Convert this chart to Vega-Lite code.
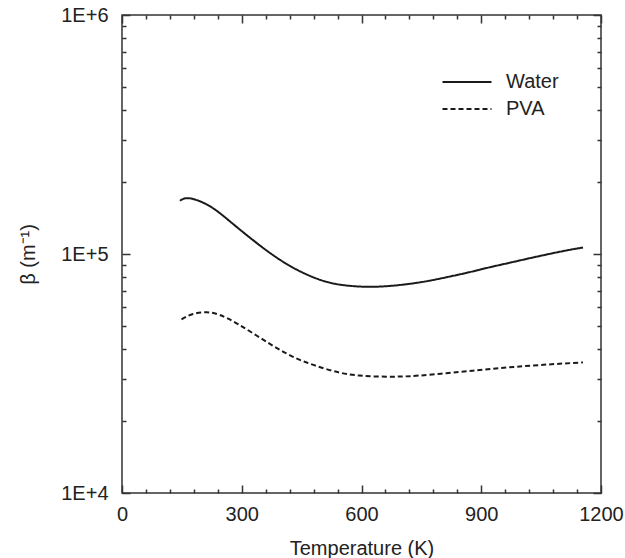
{
  "$schema": "https://vega.github.io/schema/vega-lite/v6.json",
  "autosize": "none",
  "width": 479,
  "height": 478,
  "padding": {"left": 122, "top": 15, "right": 24, "bottom": 65},
  "background": "white",
  "config": {
    "font": "Liberation Sans",
    "view": {"stroke": "#333333", "strokeWidth": 1.5},
    "axis": {"grid": false, "domain": false, "tickColor": "#333333", "tickWidth": 1.5, "labelColor": "#222222", "titleColor": "#222222", "labelFont": "Liberation Sans", "titleFont": "Liberation Sans", "labelFontSize": 20, "titleFontSize": 20, "titleFontWeight": "normal"}
  },
  "data": {
    "values": [
      {"T": 145, "beta": 167000, "series": "Water"},
      {"T": 170, "beta": 171000, "series": "Water"},
      {"T": 220, "beta": 158500, "series": "Water"},
      {"T": 270, "beta": 137100, "series": "Water"},
      {"T": 320, "beta": 117200, "series": "Water"},
      {"T": 370, "beta": 101200, "series": "Water"},
      {"T": 420, "beta": 89300, "series": "Water"},
      {"T": 470, "beta": 81100, "series": "Water"},
      {"T": 520, "beta": 75900, "series": "Water"},
      {"T": 570, "beta": 73600, "series": "Water"},
      {"T": 620, "beta": 72900, "series": "Water"},
      {"T": 670, "beta": 73500, "series": "Water"},
      {"T": 720, "beta": 75000, "series": "Water"},
      {"T": 770, "beta": 77300, "series": "Water"},
      {"T": 820, "beta": 80400, "series": "Water"},
      {"T": 870, "beta": 83900, "series": "Water"},
      {"T": 920, "beta": 87900, "series": "Water"},
      {"T": 970, "beta": 91800, "series": "Water"},
      {"T": 1020, "beta": 95900, "series": "Water"},
      {"T": 1070, "beta": 100000, "series": "Water"},
      {"T": 1120, "beta": 104000, "series": "Water"},
      {"T": 1155, "beta": 106400, "series": "Water"},
      {"T": 149, "beta": 53300, "series": "PVA"},
      {"T": 178, "beta": 56100, "series": "PVA"},
      {"T": 212, "beta": 57000, "series": "PVA"},
      {"T": 245, "beta": 55600, "series": "PVA"},
      {"T": 287, "beta": 51300, "series": "PVA"},
      {"T": 337, "beta": 45600, "series": "PVA"},
      {"T": 387, "beta": 40500, "series": "PVA"},
      {"T": 437, "beta": 36600, "series": "PVA"},
      {"T": 487, "beta": 34000, "series": "PVA"},
      {"T": 545, "beta": 31900, "series": "PVA"},
      {"T": 595, "beta": 31000, "series": "PVA"},
      {"T": 645, "beta": 30700, "series": "PVA"},
      {"T": 695, "beta": 30700, "series": "PVA"},
      {"T": 745, "beta": 31000, "series": "PVA"},
      {"T": 812, "beta": 31700, "series": "PVA"},
      {"T": 878, "beta": 32500, "series": "PVA"},
      {"T": 945, "beta": 33300, "series": "PVA"},
      {"T": 1045, "beta": 34300, "series": "PVA"},
      {"T": 1155, "beta": 35200, "series": "PVA"}
    ]
  },
  "layer": [
    {
      "mark": {"type": "line", "interpolate": "natural", "strokeWidth": 2, "color": "#1a1a1a"},
      "encoding": {
        "x": {"field": "T", "type": "quantitative", "scale": {"domain": [0, 1200], "nice": false},
          "axis": {"orient": "bottom", "values": [0, 300, 600, 900, 1200], "format": "d", "tickSize": -8, "labelPadding": 19, "title": "Temperature (K)", "titlePadding": 14, "labelFlush": false}},
        "y": {"field": "beta", "type": "quantitative", "scale": {"type": "log", "domain": [10000, 1000000], "nice": false},
          "axis": {"orient": "left", "values": [10000, 100000, 1000000], "tickSize": -8, "labelPadding": 22, "labelExpr": "'1E+' + round(log(datum.value)/LN10)", "title": "β (m⁻¹)", "titlePadding": 22}},
        "strokeDash": {"field": "series", "type": "nominal",
          "scale": {"domain": ["Water", "PVA"], "range": [[1, 0], [5, 3]]},
          "legend": {"orient": "none", "legendX": 334, "legendY": 56, "title": null, "symbolType": "M-2.45,0H2.45", "symbolSize": 400, "symbolStrokeWidth": 2, "symbolStrokeColor": "#1a1a1a", "symbolFillColor": "transparent", "labelFontSize": 20, "labelColor": "#222222", "labelOffset": 28, "rowPadding": 6, "padding": 0}}
      }
    },
    {
      "mark": {"type": "line", "opacity": 0},
      "encoding": {
        "x": {"field": "T", "type": "quantitative", "axis": {"orient": "top", "values": [0, 300, 600, 900, 1200], "tickSize": -8, "labels": false, "title": null}},
        "y": {"field": "beta", "type": "quantitative", "axis": {"orient": "right", "values": [10000, 100000, 1000000], "tickSize": -8, "labels": false, "title": null}},
        "detail": {"field": "series"}
      }
    },
    {
      "mark": {"type": "line", "opacity": 0},
      "encoding": {
        "x": {"field": "T", "type": "quantitative", "axis": {"orient": "bottom", "values": [60, 120, 180, 240, 360, 420, 480, 540, 660, 720, 780, 840, 960, 1020, 1080, 1140], "tickSize": -4, "labels": false, "title": null}},
        "y": {"field": "beta", "type": "quantitative", "axis": {"orient": "left", "values": [20000, 30000, 40000, 50000, 60000, 70000, 80000, 90000, 200000, 300000, 400000, 500000, 600000, 700000, 800000, 900000], "tickSize": -4, "labels": false, "title": null}},
        "detail": {"field": "series"}
      }
    },
    {
      "mark": {"type": "line", "opacity": 0},
      "encoding": {
        "x": {"field": "T", "type": "quantitative", "axis": {"orient": "top", "values": [60, 120, 180, 240, 360, 420, 480, 540, 660, 720, 780, 840, 960, 1020, 1080, 1140], "tickSize": -4, "labels": false, "title": null}},
        "y": {"field": "beta", "type": "quantitative", "axis": {"orient": "right", "values": [20000, 30000, 40000, 50000, 60000, 70000, 80000, 90000, 200000, 300000, 400000, 500000, 600000, 700000, 800000, 900000], "tickSize": -4, "labels": false, "title": null}},
        "detail": {"field": "series"}
      }
    }
  ],
  "resolve": {"axis": {"x": "independent", "y": "independent"}}
}
